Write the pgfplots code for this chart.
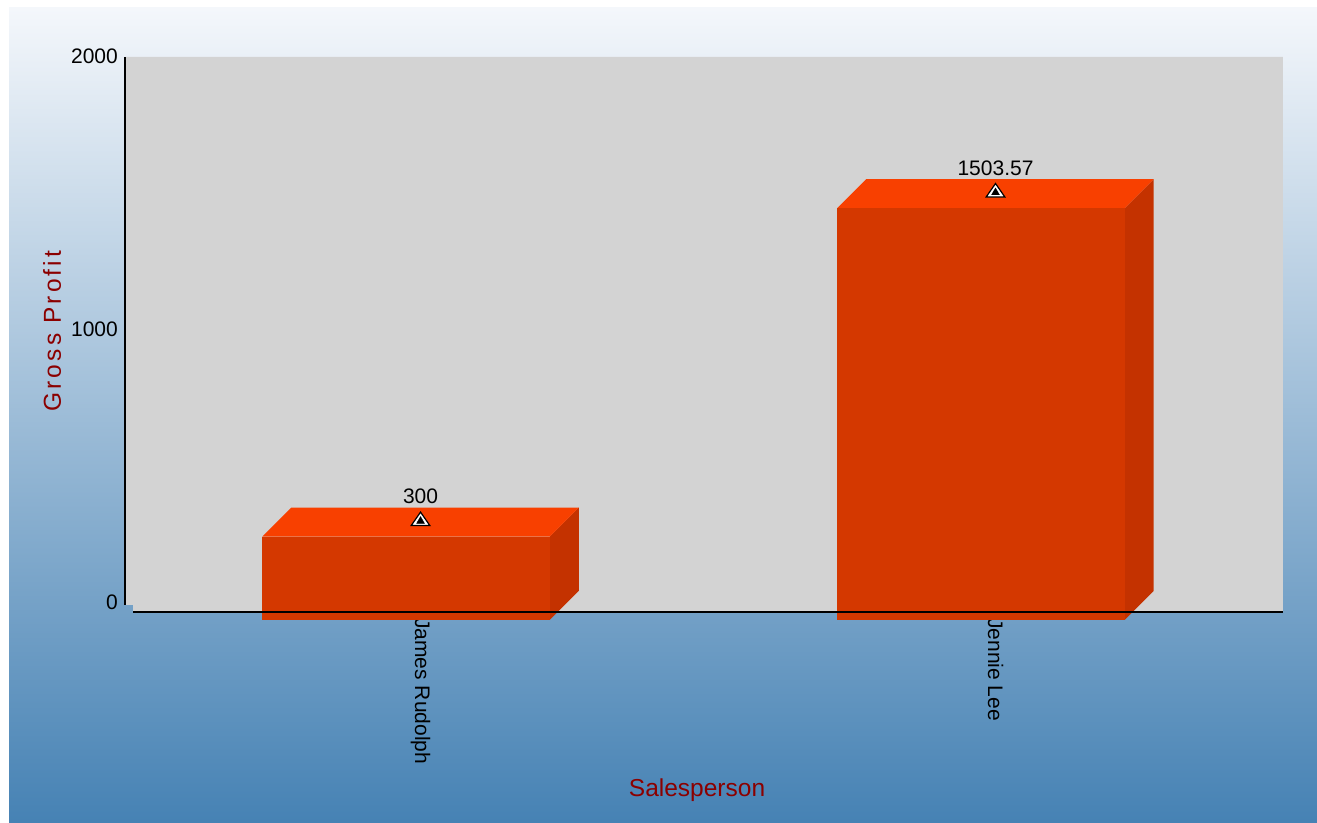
\documentclass[border=0pt]{standalone}
\usepackage{fontspec}
\setmainfont{Liberation Sans}
\usepackage{pgfplots}
\pgfplotsset{compat=1.18}

\definecolor{bgtop}{RGB}{244,247,251}
\definecolor{bgbot}{RGB}{70,130,180}
\definecolor{plotgray}{RGB}{211,211,211}
\definecolor{barfront}{RGB}{212,56,0}
\definecolor{bartop}{RGB}{248,64,0}
\definecolor{barside}{RGB}{196,50,0}
\definecolor{labelred}{RGB}{139,0,0}

\begin{document}
\begin{tikzpicture}
\useasboundingbox (0,0) rectangle (1317pt,822pt);
\fill[white] (0,0) rectangle (1317pt,822pt);
\shade[top color=bgtop, bottom color=bgbot] (9pt,0) rectangle (1317pt,814pt);
\begin{axis}[
  at={(125pt,210pt)}, anchor=south west,
  width=1158pt, height=555pt, scale only axis,
  xmin=-0.514, xmax=1.5,
  ymin=-33, ymax=2000,
  clip=false,
  axis line style={draw=none},
  tick style={draw=none},
  /pgf/number format/assume math mode=true,
  scaled y ticks=false,
  xtick={0,1},
  xticklabels={James Rudolph,Jennie Lee},
  ytick={0,1000,2000},
  yticklabels={0,1000,2000},
  every tick label/.append style={font=\fontsize{21}{25}\selectfont, text=black},
  yticklabel style={inner sep=0pt, xshift=-7pt, yshift=1pt},
  xticklabel style={rotate=-90, anchor=west, inner sep=6pt},
  xlabel={Salesperson},
  xlabel style={at={(axis description cs:0.494,-0.3333)}, anchor=base,
    font=\fontsize{24.5}{28}\selectfont, text=labelred},
  ylabel={\addfontfeature{LetterSpace=13}Gross Profit},
  ylabel style={at={(axis description cs:-0.063,0.506)}, anchor=center,
    font=\fontsize{24.5}{28}\selectfont, text=labelred},
]
% plot area (gray), with the small notch at the lower left
\fill[plotgray] (axis cs:-0.514,-7) -- (axis cs:-0.5,-7) -- (axis cs:-0.5,-33)
  -- (axis cs:1.5,-33) -- (axis cs:1.5,2000) -- (axis cs:-0.514,2000) -- cycle;

% James Rudolph: 300
\addplot[fill=barside, draw=none] coordinates {(0.2248,-62) (0.2752,44) (0.2752,349) (0.2248,243)};
\addplot[fill=bartop, draw=none] coordinates {(-0.2752,243) (0.2248,243) (0.2752,349) (-0.2248,349)};
\addplot[fill=barfront, draw=none] coordinates {(-0.2752,-62) (0.2248,-62) (0.2248,243) (-0.2752,243)};

% Jennie Lee: 1503.57
\addplot[fill=barside, draw=none] coordinates {(1.2248,-62) (1.2752,44) (1.2752,1552.57) (1.2248,1446.57)};
\addplot[fill=bartop, draw=none] coordinates {(0.7248,1446.57) (1.2248,1446.57) (1.2752,1552.57) (0.7752,1552.57)};
\addplot[fill=barfront, draw=none] coordinates {(0.7248,-62) (1.2248,-62) (1.2248,1446.57) (0.7248,1446.57)};

% axis lines
\draw[line width=2pt, black] (axis cs:-0.5,-33) -- (axis cs:1.5,-33);
\draw[line width=2pt, black] (axis cs:-0.514,-7) -- (axis cs:-0.514,2000);

% value markers and labels
\addplot[only marks, mark=triangle*, mark size=9pt,
  mark options={fill=white, draw=black, line width=1.2pt, xscale=1.2},
  point meta=explicit symbolic, nodes near coords,
  every node near coord/.append style={font=\fontsize{21}{25}\selectfont,
    text=black, anchor=south, inner sep=0pt, yshift=16.5pt}]
  coordinates {(0,300) [300] (1,1503.57) [1503.57]};
\addplot[only marks, mark=triangle*, mark size=4.5pt, black]
  coordinates {(0,300) (1,1503.57)};
\end{axis}
\end{tikzpicture}
\end{document}
